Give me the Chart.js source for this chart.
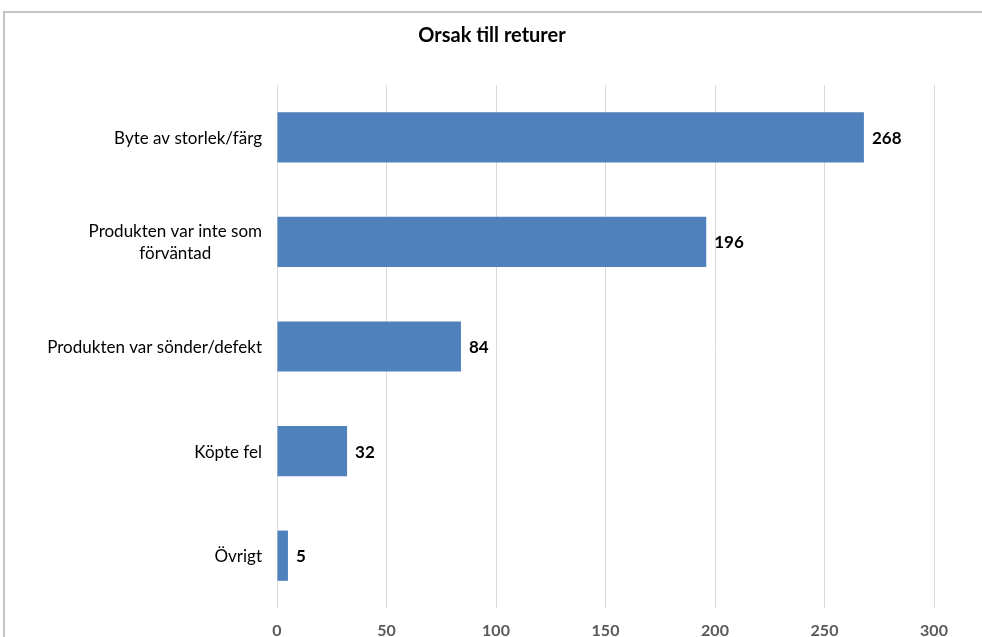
<!DOCTYPE html>
<html>
<head>
<meta charset="utf-8">
<script src="https://cdn.jsdelivr.net/npm/chart.js@4"></script>
<style>
    html, body { margin: 0; padding: 0; background: #fff; overflow: hidden; }
    #frame {
        position: absolute; left: 3px; top: 11px; width: 1000px; height: 700px;
        border-left: 2px solid #c4c4c4; border-top: 2px solid #c4c4c4;
    }
    #wrap { position: absolute; left: 0; top: 0; width: 982px; height: 637px; }
</style>
</head>
<body>
<div id="frame"></div>
<div id="wrap"><canvas id="myChart"></canvas></div>
<script>
const categories = [
    'Byte av storlek/färg',
    ['Produkten var inte som', 'förväntad'],
    'Produkten var sönder/defekt',
    'Köpte fel',
    'Övrigt'
];
const returns = [268, 196, 84, 32, 5];
const xMin = 0;
const xMax = 300;
const xStep = 50;
const chartTitle = 'Orsak till returer';

const fontFamily = 'Lato, "Open Sans", sans-serif';

// title, category labels (multi-line ones centred line by line) and value labels
const extraText = {
    id: 'extraText',
    afterDatasetsDraw(chart) {
        const ctx = chart.ctx;
        const meta = chart.getDatasetMeta(0);
        const yScale = chart.scales.y;
        ctx.save();
        ctx.fillStyle = '#000';
        ctx.textBaseline = 'middle';

        ctx.font = 'bold 17px ' + fontFamily;
        ctx.textAlign = 'left';
        meta.data.forEach((bar, i) => {
            ctx.fillText(returns[i], bar.x + 8, bar.y + 1);
        });

        ctx.font = '17px ' + fontFamily;
        ctx.textAlign = 'center';
        const right = chart.chartArea.left - 15;
        const lineHeight = 22;
        chart.data.labels.forEach((label, i) => {
            const lines = Array.isArray(label) ? label : [label];
            const widest = Math.max(...lines.map(l => ctx.measureText(l).width));
            const cx = right - widest / 2;
            const cy = yScale.getPixelForTick(i);
            const top = cy - (lines.length - 1) * lineHeight / 2;
            lines.forEach((l, j) => ctx.fillText(l, cx, top + j * lineHeight + 1));
        });

        ctx.font = 'bold 20px ' + fontFamily;
        ctx.fillText(chartTitle, chart.width / 2 + 1, 36);
        ctx.restore();
    }
};

function buildChart() {
    const ctx = document.getElementById('myChart');
    new Chart(ctx, {
        type: 'bar',
        data: {
            labels: categories,
            datasets: [{
                label: chartTitle,
                data: returns,
                backgroundColor: '#4f81bd',
                borderWidth: 0,
                barPercentage: 0.6,
                categoryPercentage: 0.8
            }]
        },
        options: {
            indexAxis: 'y',
            responsive: true,
            maintainAspectRatio: false,
            animation: false,
            layout: { padding: { left: 0, right: 48, top: 85, bottom: 0 } },
            plugins: {
                legend: { display: false },
                tooltip: { enabled: false },
                title: { display: false }
            },
            scales: {
                x: {
                    min: xMin,
                    max: xMax,
                    ticks: {
                        stepSize: xStep,
                        color: '#595959',
                        padding: 13,
                        font: { family: fontFamily, size: 16, weight: 'bold' }
                    },
                    grid: { color: '#d9d9d9', drawTicks: false },
                    border: { display: false },
                    afterFit(scale) { scale.height = 29; }
                },
                y: {
                    ticks: { display: false },
                    grid: { display: false, drawTicks: false },
                    border: { display: false },
                    afterFit(scale) { scale.width = 277; }
                }
            }
        },
        plugins: [extraText]
    });
}

buildChart();
</script>
</body>
</html>
